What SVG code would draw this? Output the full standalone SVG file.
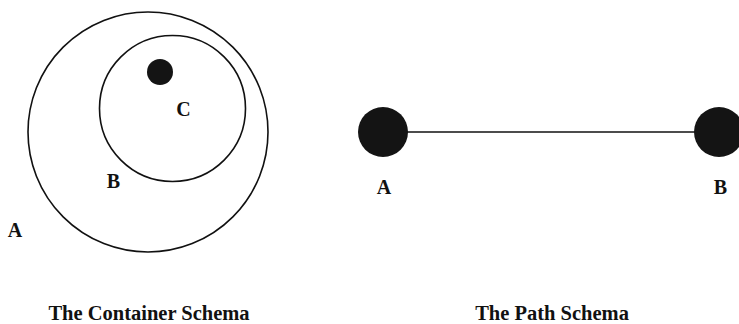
<svg xmlns="http://www.w3.org/2000/svg" width="739" height="324" viewBox="0 0 739 324">
<style>
.ring{fill:none;stroke:#111;stroke-width:1.6}
.dot{fill:#141414}
.lbl{font-family:"Liberation Serif","Times New Roman",serif;font-weight:bold;font-size:20px;fill:#111;text-anchor:middle}
.cap{font-family:"Liberation Serif","Times New Roman",serif;font-weight:bold;font-size:20.5px;fill:#111;text-anchor:middle}
</style>
<rect width="739" height="324" fill="#fff"/>
<g id="container-A">
<circle class="ring" cx="148" cy="132" r="120"/>
<text class="lbl" x="15" y="237">A</text>
</g>
<g id="container-B">
<circle class="ring" cx="172.5" cy="108.5" r="73"/>
<text class="lbl" x="113.5" y="188">B</text>
</g>
<g id="container-C">
<circle class="dot" cx="160" cy="72" r="13"/>
<text class="lbl" x="183.5" y="116">C</text>
</g>
<g id="connectors">
<line x1="400" y1="132" x2="700" y2="132" stroke="#111" stroke-width="1.6"/>
</g>
<g id="path-A">
<circle class="dot" cx="383" cy="132" r="25"/>
<text class="lbl" x="384" y="194">A</text>
</g>
<g id="path-B">
<circle class="dot" cx="719" cy="132" r="25"/>
<text class="lbl" x="720.5" y="194">B</text>
</g>
<g id="captions">
<text class="cap" x="149" y="320">The Container Schema</text>
<text class="cap" x="552" y="320">The Path Schema</text>
</g>
</svg>
